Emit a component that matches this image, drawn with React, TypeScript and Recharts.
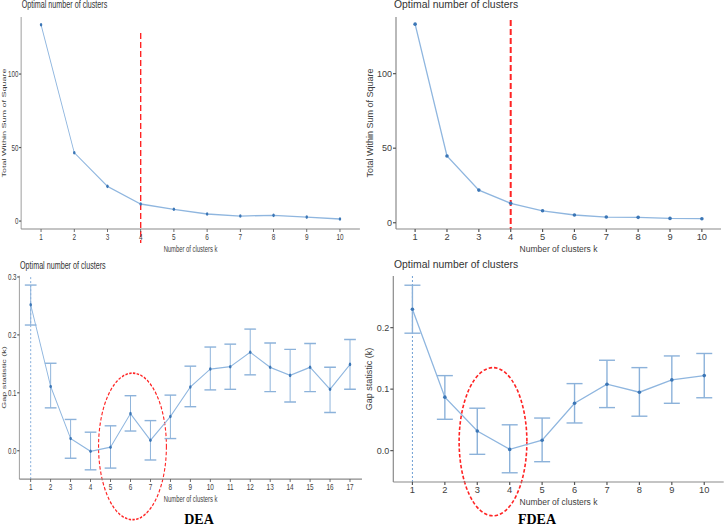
import React from 'react';
import {
  ComposedChart,
  Line,
  XAxis,
  YAxis,
  ErrorBar,
  ReferenceLine,
  ReferenceArea,
  Label,
} from 'recharts';

// Cluster counts
const kTen = [1, 2, 3, 4, 5, 6, 7, 8, 9, 10];
const kSeventeen = [1, 2, 3, 4, 5, 6, 7, 8, 9, 10, 11, 12, 13, 14, 15, 16, 17];

// Elbow method: total within-cluster sum of squares
const wssDEA = [133.5, 46.5, 23.6, 11.6, 8.0, 4.8, 3.4, 3.9, 2.7, 1.4];
const wssFDEA = [133.2, 44.8, 21.9, 13.0, 8.0, 5.2, 3.8, 3.6, 2.9, 2.7];

// Gap statistic with lower / upper standard-error bounds
const gapDEA = [0.252, 0.111, 0.021, -0.001, 0.006, 0.064, 0.018, 0.059, 0.110, 0.141, 0.145, 0.170, 0.144, 0.130, 0.144, 0.106, 0.149];
const gapDEALow = [0.217, 0.074, -0.013, -0.033, -0.030, 0.034, -0.016, 0.021, 0.076, 0.105, 0.106, 0.131, 0.102, 0.084, 0.102, 0.066, 0.106];
const gapDEAHigh = [0.286, 0.151, 0.054, 0.032, 0.043, 0.095, 0.052, 0.096, 0.146, 0.179, 0.184, 0.210, 0.186, 0.175, 0.185, 0.144, 0.192];

const gapFDEA = [0.230, 0.087, 0.032, 0.002, 0.017, 0.077, 0.108, 0.095, 0.115, 0.122];
const gapFDEALow = [0.191, 0.051, -0.006, -0.036, -0.018, 0.045, 0.070, 0.056, 0.077, 0.086];
const gapFDEAHigh = [0.269, 0.122, 0.069, 0.042, 0.053, 0.109, 0.147, 0.135, 0.154, 0.158];

// Tick labels
const wssTicks = [0, 50, 100];
const gapTicksDEA = [0, 0.1, 0.2, 0.3];
const gapTicksFDEA = [0, 0.1, 0.2];

const LINE = '#8fb6df';
const DOT = '#3b76b6';
const ERR = '#8cb2da';
const RED = '#ff2424';
const AXIS = '#8a8a8a';
const TEXT = '#404040';

const SANS = '"Liberation Sans", Arial, sans-serif';

// The DEA column is drawn horizontally condensed
const SQUEEZE = 0.69;

const wssRows = (ks: number[], vals: number[]) => ks.map((k, i) => ({ k, v: vals[i] }));
const gapRows = (ks: number[], vals: number[], lo: number[], hi: number[]) =>
  ks.map((k, i) => ({ k, v: vals[i], err: [vals[i] - lo[i], hi[i] - vals[i]] }));

type PanelProps = {
  left: number;
  top: number;
  width: number;
  height: number;
  squeeze: number;
  margin: { top: number; right: number; left: number; bottom: number };
  yAxisWidth: number;
  xAxisHeight: number;
  xDomain: [number, number];
  yDomain: [number, number];
  xTicks: number[];
  yTicks: number[];
  rows: any[];
  xLabelOffset: number;
  yLabel: string;
  yLabelOffset: number;
  decimals: number;
  titleLeft: number;
  titleTop: number;
  children?: React.ReactNode;
  withErrors?: boolean;
  capWidth?: number;
};

function Panel(p: PanelProps) {
  return (
    <div
      style={{
        position: 'absolute',
        left: p.left,
        top: p.top,
        width: p.width,
        height: p.height,
        transform: `scaleX(${p.squeeze})`,
        transformOrigin: '0 0',
      }}
    >
      <ComposedChart width={p.width} height={p.height} data={p.rows} margin={p.margin}>
        <XAxis
          dataKey="k"
          type="number"
          domain={p.xDomain}
          ticks={p.xTicks}
          allowDataOverflow
          height={p.xAxisHeight}
          tickSize={3}
          tickMargin={1}
          stroke={AXIS}
          strokeWidth={1.2}
          tickLine={{ stroke: '#555' }}
          tick={{ fill: TEXT, fontSize: 9.3, fontFamily: SANS }}
        >
          <Label
            value="Number of clusters k"
            position="insideBottom"
            offset={p.xLabelOffset}
            style={{ fill: TEXT, fontSize: 8.5, fontFamily: SANS }}
          />
        </XAxis>
        <YAxis
          type="number"
          domain={p.yDomain}
          ticks={p.yTicks}
          allowDataOverflow
          width={p.yAxisWidth}
          tickSize={3}
          tickMargin={1}
          stroke={AXIS}
          strokeWidth={1.2}
          tickLine={{ stroke: '#555' }}
          tickFormatter={(v: number) => v.toFixed(p.decimals)}
          tick={{ fill: TEXT, fontSize: 9, fontFamily: SANS }}
        >
          <Label
            value={p.yLabel}
            angle={-90}
            position="insideLeft"
            offset={p.yLabelOffset}
            style={{ fill: TEXT, fontSize: 9, fontFamily: SANS, textAnchor: 'middle' }}
          />
        </YAxis>
        {p.children}
        <Line
          dataKey="v"
          stroke={LINE}
          strokeWidth={1.3}
          dot={{ r: 1.8, fill: DOT, stroke: 'none' }}
          activeDot={false}
          isAnimationActive={false}
        >
          {p.withErrors ? (
            <ErrorBar dataKey="err" width={p.capWidth ?? 6} stroke={ERR} strokeWidth={1.4} direction="y" />
          ) : null}
        </Line>
      </ComposedChart>
      <div
        style={{
          position: 'absolute',
          left: p.titleLeft,
          top: p.titleTop,
          whiteSpace: 'nowrap',
          lineHeight: 1,
          fontSize: 10.4,
          fontFamily: SANS,
          color: '#333',
        }}
      >
        Optimal number of clusters
      </div>
    </div>
  );
}

const dashedEllipse = (props: any) => {
  const { x, y, width, height } = props;
  return (
    <ellipse
      cx={x + width / 2}
      cy={y + height / 2}
      rx={width / 2}
      ry={height / 2}
      fill="none"
      stroke={RED}
      strokeWidth={1.6}
      strokeDasharray="3.5 2"
    />
  );
};

const captionStyle: React.CSSProperties = {
  position: 'absolute',
  top: 512.5,
  transform: 'translateX(-50%)',
  whiteSpace: 'nowrap',
  lineHeight: 1,
  fontSize: 14,
  fontWeight: 'bold',
  fontFamily: '"Liberation Serif", "Times New Roman", serif',
  color: '#000',
};

export default function App() {
  return (
    <div
      style={{
        position: 'absolute',
        left: 0,
        top: 0,
        width: 724,
        height: 526,
        background: '#fff',
        overflow: 'hidden',
      }}
    >
      {/* Elbow method, DEA */}
      <Panel
        left={0}
        top={0}
        width={525}
        height={255}
        squeeze={SQUEEZE}
        margin={{ top: 17, right: 3.4, left: 0, bottom: 0 }}
        yAxisWidth={30.6}
        xAxisHeight={26}
        xDomain={[0.4, 10.6]}
        yDomain={[-5.4, 138.8]}
        xTicks={kTen}
        yTicks={wssTicks}
        rows={wssRows(kTen, wssDEA)}
        xLabelOffset={3}
        yLabel="Total Within Sum of Square"
        yLabelOffset={5.8}
        decimals={0}
        titleLeft={31.4}
        titleTop={0.4}
      >
        <ReferenceLine
          segment={[{ x: 4, y: 128 }, { x: 4, y: -15 }]}
          ifOverflow="visible"
          stroke={RED}
          strokeWidth={2}
          strokeDasharray="6 3"
        />
      </Panel>

      {/* Elbow method, FDEA */}
      <Panel
        left={362}
        top={0}
        width={362}
        height={255}
        squeeze={1}
        margin={{ top: 17, right: 3, left: 0, bottom: 0 }}
        yAxisWidth={34}
        xAxisHeight={26}
        xDomain={[0.4, 10.6]}
        yDomain={[-4.2, 138]}
        xTicks={kTen}
        yTicks={wssTicks}
        rows={wssRows(kTen, wssFDEA)}
        xLabelOffset={2.7}
        yLabel="Total Within Sum of Square"
        yLabelOffset={8}
        decimals={0}
        titleLeft={32}
        titleTop={0}
      >
        <ReferenceLine
          segment={[{ x: 4, y: 136 }, { x: 4, y: -4.2 }]}
          ifOverflow="visible"
          stroke={RED}
          strokeWidth={2}
          strokeDasharray="6 3"
        />
      </Panel>

      {/* Gap statistic, DEA */}
      <Panel
        left={0}
        top={250}
        width={525}
        height={276}
        squeeze={SQUEEZE}
        margin={{ top: 25.8, right: 0.4, left: 0, bottom: 0 }}
        yAxisWidth={28}
        xAxisHeight={46.9}
        xDomain={[0.43, 17.6]}
        yDomain={[-0.049, 0.302]}
        xTicks={kSeventeen}
        yTicks={gapTicksDEA}
        rows={gapRows(kSeventeen, gapDEA, gapDEALow, gapDEAHigh)}
        xLabelOffset={24}
        yLabel="Gap statistic (k)"
        yLabelOffset={5.8}
        decimals={1}
        titleLeft={29}
        titleTop={10.5}
        withErrors
        capWidth={8.5}
      >
        <ReferenceLine x={1} stroke="#6f9fd4" strokeWidth={1} strokeDasharray="2 2" />
        <ReferenceArea
          x1={4.4}
          x2={7.8}
          y1={-0.119}
          y2={0.134}
          ifOverflow="visible"
          shape={dashedEllipse}
        />
      </Panel>

      {/* Gap statistic, FDEA */}
      <Panel
        left={362}
        top={250}
        width={362}
        height={276}
        squeeze={1}
        margin={{ top: 26, right: 0.3, left: 0, bottom: 0 }}
        yAxisWidth={31.3}
        xAxisHeight={44}
        xDomain={[0.41, 10.6]}
        yDomain={[-0.051, 0.284]}
        xTicks={kTen}
        yTicks={gapTicksFDEA}
        rows={gapRows(kTen, gapFDEA, gapFDEALow, gapFDEAHigh)}
        xLabelOffset={21}
        yLabel="Gap statistic (k)"
        yLabelOffset={7}
        decimals={1}
        titleLeft={32}
        titleTop={10.4}
        withErrors
        capWidth={8}
      >
        <ReferenceLine x={1} stroke="#6f9fd4" strokeWidth={1} strokeDasharray="2 2" />
        <ReferenceArea
          x1={2.44}
          x2={4.53}
          y1={-0.106}
          y2={0.135}
          ifOverflow="visible"
          shape={dashedEllipse}
        />
      </Panel>

      {/* Method captions */}
      <div style={{ ...captionStyle, left: 199 }}>DEA</div>
      <div style={{ ...captionStyle, left: 537 }}>FDEA</div>
    </div>
  );
}
